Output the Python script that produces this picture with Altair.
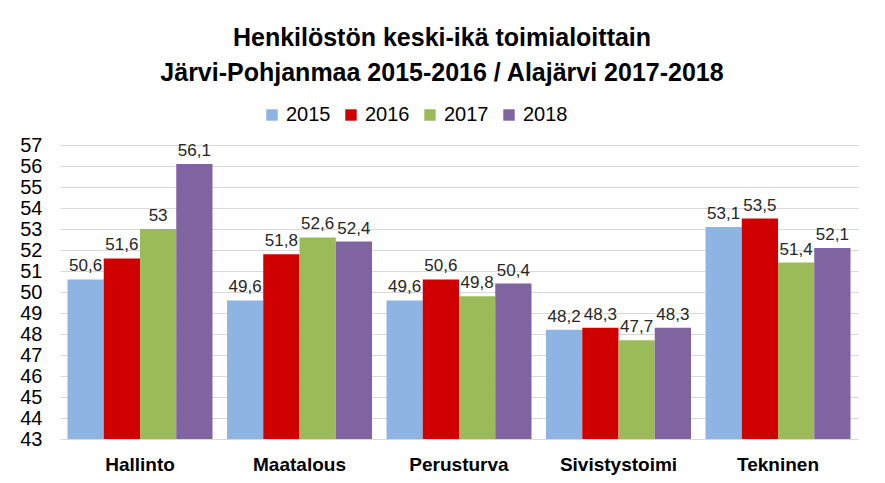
import altair as alt
import pandas as pd

categories = ["Hallinto", "Maatalous", "Perusturva", "Sivistystoimi", "Tekninen"]
years = ["2015", "2016", "2017", "2018"]
v2015 = [50.6, 49.6, 49.6, 48.2, 53.1]
v2016 = [51.6, 51.8, 50.6, 48.3, 53.5]
v2017 = [53.0, 52.6, 49.8, 47.7, 51.4]
v2018 = [56.1, 52.4, 50.4, 48.3, 52.1]
colors = ["#8EB4E3", "#D00000", "#9BBB59", "#8064A2"]
y_ticks = list(range(43, 58))
title_lines = ["Henkilöstön keski-ikä toimialoittain",
               "Järvi-Pohjanmaa 2015-2016 / Alajärvi 2017-2018"]

rows = []
for yr, vals in zip(years, [v2015, v2016, v2017, v2018]):
    for c, v in zip(categories, vals):
        rows.append({"kategoria": c, "vuosi": yr, "arvo": v,
                     "label": f"{v:g}".replace(".", ",")})
df = pd.DataFrame(rows)

FONT = "Liberation Sans"

base = alt.Chart(df).encode(
    x=alt.X("kategoria:N", sort=categories,
            scale=alt.Scale(paddingInner=0.091, paddingOuter=0.047),
            axis=alt.Axis(title=None, labelAngle=0, labelFontSize=19,
                          labelFontWeight="bold", labelColor="#000000",
                          labelPadding=16, ticks=False, domain=False)),
    xOffset=alt.XOffset("vuosi:N", sort=years,
                        scale=alt.Scale(paddingInner=0, paddingOuter=0)),
    y=alt.Y("arvo:Q",
            scale=alt.Scale(domain=[43, 57], nice=False, zero=False),
            axis=alt.Axis(values=y_ticks, tickCount=15, title=None, grid=True,
                          gridColor="#D9D9D9", gridWidth=1, ticks=False,
                          domain=False, labelFontSize=20, labelPadding=18,
                          labelOverlap=False, labelBound=False,
                          labelColor="#000000", format="d")),
)

bars = base.mark_bar(clip=True).encode(
    color=alt.Color("vuosi:N", sort=years,
                    scale=alt.Scale(domain=years, range=colors),
                    legend=alt.Legend(title=None, orient="none",
                                      legendX=202, legendY=-40,
                                      direction="horizontal",
                                      symbolType="square", symbolSize=130,
                                      symbolStrokeWidth=0,
                                      labelFontSize=20, labelColor="#000000",
                                      labelOffset=4, columnPadding=10)),
)

text = base.mark_text(baseline="bottom", dy=-4, fontSize=17,
                      color="#262626").encode(
    text="label:N",
)

chart = alt.layer(bars, text).properties(
    width=798, height=294,
    title=alt.TitleParams(title_lines, fontSize=25, fontWeight="bold",
                          lineHeight=35, anchor="middle", dx=-17,
                          color="#000000", offset=19),
    autosize=alt.AutoSizeParams(type="none"),
    padding={"left": 52, "top": 137, "right": 19, "bottom": 44},
).configure(font=FONT).configure_view(stroke=None)

chart.save("out.html", embed_options={"renderer": "svg", "actions": False})
